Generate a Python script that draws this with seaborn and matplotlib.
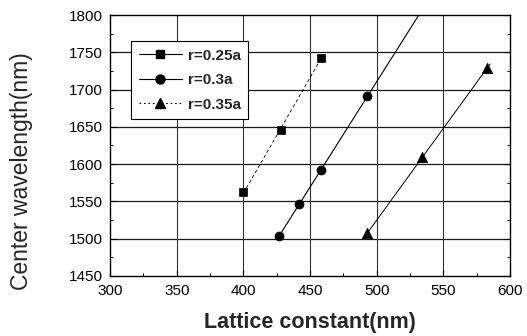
import numpy as np
import pandas as pd
import matplotlib
matplotlib.use("Agg")
import matplotlib.pyplot as plt
from matplotlib.lines import Line2D
from matplotlib.ticker import MultipleLocator
import seaborn as sns

# data
x_sq = [400, 428, 458]
y_sq = [1562, 1646, 1742]
x_ci = [427, 442, 458, 493]
y_ci = [1504, 1547, 1592, 1691]
x_tr = [493, 534, 583]
y_tr = [1507, 1610, 1729]
labels = ["r=0.25a", "r=0.3a", "r=0.35a"]
xticks = [300, 350, 400, 450, 500, 550, 600]
yticks = [1450, 1500, 1550, 1600, 1650, 1700, 1750, 1800]

sns.set_style("ticks")
plt.rcParams['font.family'] = ['Liberation Sans', 'DejaVu Sans']

fig = plt.figure(figsize=(5.27, 3.36), dpi=100)
ax = fig.add_axes([0.209, 0.179, 0.759, 0.776])

# gridlines
for yv in yticks[1:-1]:
    ax.axhline(yv, color="#1a1a1a", lw=0.9, zorder=0)
for xv in xticks[1:-1]:
    ax.axvline(xv, color="#333333", lw=0.8, zorder=0)

series = [
    (x_sq, y_sq, "s", (400, 460), (0, (4, 3)), 0.6, 6),
    (x_ci, y_ci, "o", (427, 532), "-", 0.8, 6.5),
    (x_tr, y_tr, "^", (490, 585), "-", 0.7, 7.5),
]
for (xs, ys, m, rng, ls, lw, ms), lab in zip(series, labels):
    k, b = np.polyfit(xs, ys, 1)
    xl = np.linspace(rng[0], rng[1], 50)
    fit = pd.DataFrame({"x": xl, "y": k * xl + b})
    sns.lineplot(data=fit, x="x", y="y", ax=ax, color="black", lw=lw,
                 linestyle=ls, zorder=2)
    df = pd.DataFrame({"x": xs, "y": ys})
    sns.scatterplot(data=df, x="x", y="y", ax=ax, marker=m, color="black",
                    s=ms ** 2, edgecolor="black", linewidth=0.5, zorder=3)

ax.set_xlim(300, 600)
ax.set_ylim(1450, 1800)
ax.set_xticks(xticks)
ax.set_yticks(yticks)
ax.xaxis.set_minor_locator(MultipleLocator(25))
ax.yaxis.set_minor_locator(MultipleLocator(25))
ax.tick_params(which="both", direction="in", right=True, top=False, color="black")
ax.tick_params(which="major", length=4, width=0.8)
ax.tick_params(which="minor", length=2.5, width=0.7)
for lab in ax.get_xticklabels() + ax.get_yticklabels():
    lab.set_fontsize(11)
    lab.set_color("black")
ax.tick_params(axis="x", pad=6)
ax.tick_params(axis="y", pad=5)
for sp in ax.spines.values():
    sp.set_color("black")
    sp.set_linewidth(1.0)

ax.set_xlabel("Lattice constant(nm)", fontsize=15.5, fontweight="bold", labelpad=10)
ax.set_ylabel("Center wavelength(nm)", fontsize=16.5)
ax.yaxis.set_label_coords(-0.1925, 0.40)

handles = [
    Line2D([], [], color="black", lw=0.8, marker="s", markersize=6),
    Line2D([], [], color="black", lw=0.8, marker="o", markersize=6.5),
    Line2D([], [], color="black", lw=0.8, ls=(0, (1.5, 2.5)), marker="^", markersize=7.5),
]
leg = ax.legend(handles, labels, loc="upper left", bbox_to_anchor=(0.0525, 0.90),
                frameon=True, fancybox=False, edgecolor="black", framealpha=1,
                prop={"family": "Liberation Sans", "weight": "bold", "size": 11},
                handlelength=2.8, labelspacing=0.68, borderpad=0.5, handletextpad=0.4,
                borderaxespad=0)
leg.get_frame().set_linewidth(0.8)

fig.savefig("out.png", dpi=100)
